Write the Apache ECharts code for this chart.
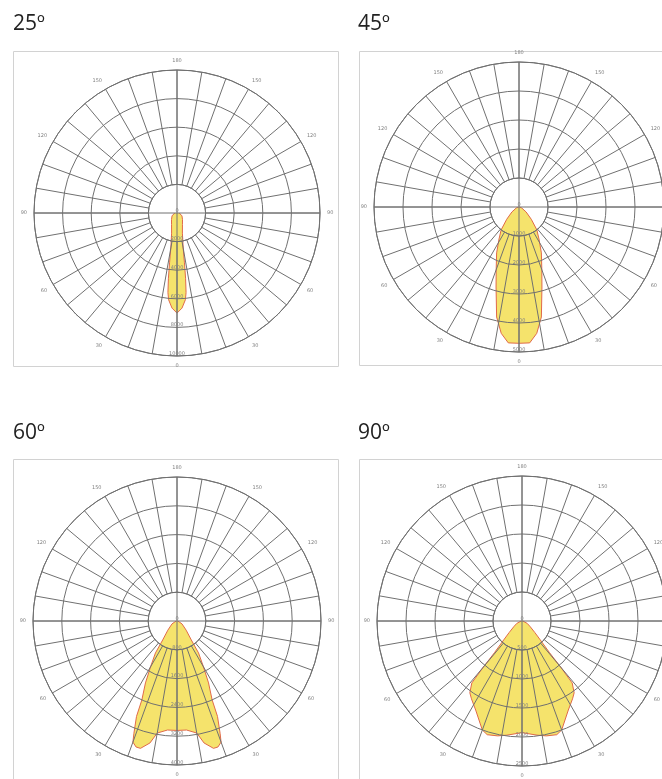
<!DOCTYPE html>
<html lang="en">
<head>
  <meta charset="UTF-8">
  <title>polar-beams</title>
  <script src="https://cdn.jsdelivr.net/npm/echarts@6/dist/echarts.min.js"></script>
  <style>
    html, body {
      margin: 0;
      padding: 0;
      background: #fff;
    }

    #chart-main {
      width: 662px;
      height: 779px;
    }
  </style>
</head>
<body>
<div id="chart-main"></div>

<script type="text/javascript">
  // beam titles
  const titles = ['25º', '45º', '60º', '90º']

  // half profiles, angle from nadir (deg) and intensity (cd)
  const angles25 = [0, 3, 5.5, 6.5, 7.5, 8.5, 10, 15, 25, 40, 60, 90]
  const values25 = [7000, 6660, 6100, 5600, 4600, 3520, 2480, 1460, 900, 600, 400, 160]

  const angles45 = [0, 4.5, 8, 11.5, 16, 20, 26, 32, 38, 45, 55, 70, 90]
  const values45 = [4700, 4700, 4400, 3870, 2870, 2300, 1760, 1300, 1000, 600, 300, 100, 20]

  const angles60 = [0, 5, 10, 12.5, 16, 18, 20, 21, 23, 24, 27, 30, 34, 37, 45, 60, 90]
  const values60 = [3040, 3040, 3160, 3470, 3680, 3680, 3580, 3340, 2880, 2400, 1930, 1470, 1070, 660, 360, 160, 24]

  const angles90 = [0, 7.5, 12, 17, 20, 27.5, 33, 36, 39, 40, 41, 44, 48, 55, 65, 90]
  const values90 = [1925, 1985, 2025, 2050, 2000, 1730, 1600, 1530, 1375, 1035, 725, 455, 300, 175, 100, 15]

  // ring step (cd) of every diagram, 5 rings each
  const ringSteps = [2000, 1000, 800, 500]

  const profiles = [
    [angles25, values25],
    [angles45, values45],
    [angles60, values60],
    [angles90, values90]
  ]

  // layout of the four boxes
  const panels = [
    {cx: 177, cy: 213, r: 143, box: [13.5, 51.5, 325, 315], tx: 13, ty: 24},
    {cx: 519, cy: 207, r: 145, box: [359.5, 51.5, 325, 314], tx: 358, ty: 24},
    {cx: 177, cy: 621, r: 144, box: [13.5, 459.5, 325, 340], tx: 13, ty: 433},
    {cx: 522, cy: 621, r: 145, box: [359.5, 459.5, 325, 340], tx: 358, ty: 433}
  ]

  const gridColor = '#707070'
  const labelStyle = {fontSize: 5, color: '#808080', fontFamily: 'DejaVu Sans'}

  // mirror a half profile around the nadir: [radius, angle] pairs
  function fullProfile (angles, values) {
    let out = []
    for (let i = angles.length - 1; i > 0; i--) {
      out.push([values[i], 360 - angles[i]])
    }
    for (let i = 0; i < angles.length; i++) {
      out.push([values[i], angles[i]])
    }
    return out
  }

  let polar = []
  let angleAxis = []
  let radiusAxis = []
  let series = []
  let graphic = []

  panels.forEach(function (p, i) {
    let step = ringSteps[i]

    // data polar: rings + diameters
    polar.push({center: [p.cx, p.cy], radius: [0, p.r]})
    // spoke polar: 10 deg spokes between hole and outer ring
    polar.push({center: [p.cx, p.cy], radius: [p.r / 5, p.r]})

    angleAxis.push({
      polarIndex: 2 * i,
      type: 'value',
      min: 0,
      max: 360,
      interval: 90,
      startAngle: 270,
      clockwise: true,
      z: 5,
      axisLine: {show: false},
      axisTick: {show: false},
      axisLabel: {show: false},
      splitLine: {show: true, lineStyle: {color: gridColor, width: 1}}
    })
    angleAxis.push({
      polarIndex: 2 * i + 1,
      type: 'value',
      min: 0,
      max: 360,
      interval: 10,
      startAngle: 270,
      clockwise: true,
      z: 5,
      axisLine: {show: true, lineStyle: {color: gridColor, width: 1}},
      axisTick: {show: false},
      axisLabel: Object.assign({
        margin: 7,
        formatter: function (v) {
          if (v % 30 !== 0 || v === 360) return ''
          return String(v <= 180 ? v : 360 - v)
        }
      }, labelStyle),
      splitLine: {show: true, lineStyle: {color: gridColor, width: 1}}
    })

    radiusAxis.push({
      polarIndex: 2 * i,
      type: 'value',
      min: 0,
      max: step * 5,
      interval: step,
      z: 5,
      axisLine: {show: false},
      axisTick: {show: false},
      axisLabel: Object.assign({
        margin: 0,
        align: 'center',
        verticalAlign: 'bottom',
        formatter: function (v) {
          return String(v)
        }
      }, labelStyle),
      splitLine: {show: true, lineStyle: {color: gridColor, width: 1}}
    })
    radiusAxis.push({
      polarIndex: 2 * i + 1,
      type: 'value',
      min: 0,
      max: 1,
      show: false
    })

    series.push({
      type: 'line',
      coordinateSystem: 'polar',
      polarIndex: 2 * i,
      data: fullProfile(profiles[i][0], profiles[i][1]),
      showSymbol: false,
      z: 2,
      lineStyle: {color: '#e06a4a', width: 1},
      areaStyle: {color: '#f5e36c', opacity: 1}
    })

    graphic.push({
      type: 'rect',
      shape: {x: p.box[0], y: p.box[1], width: p.box[2], height: p.box[3]},
      style: {fill: 'none', stroke: '#d2d2d2', lineWidth: 1},
      z: 0
    })
    graphic.push({
      type: 'text',
      x: p.tx,
      y: p.ty,
      style: {
        text: titles[i],
        fontSize: 21,
        fontFamily: 'Open Sans',
        fill: '#222',
        verticalAlign: 'middle'
      }
    })
  })

  let echartItem = echarts.init(document.getElementById('chart-main'))

  let option = {
    animation: false,
    polar: polar,
    angleAxis: angleAxis,
    radiusAxis: radiusAxis,
    series: series,
    graphic: graphic
  }

  echartItem.setOption(option)
</script>
</body>
</html>
